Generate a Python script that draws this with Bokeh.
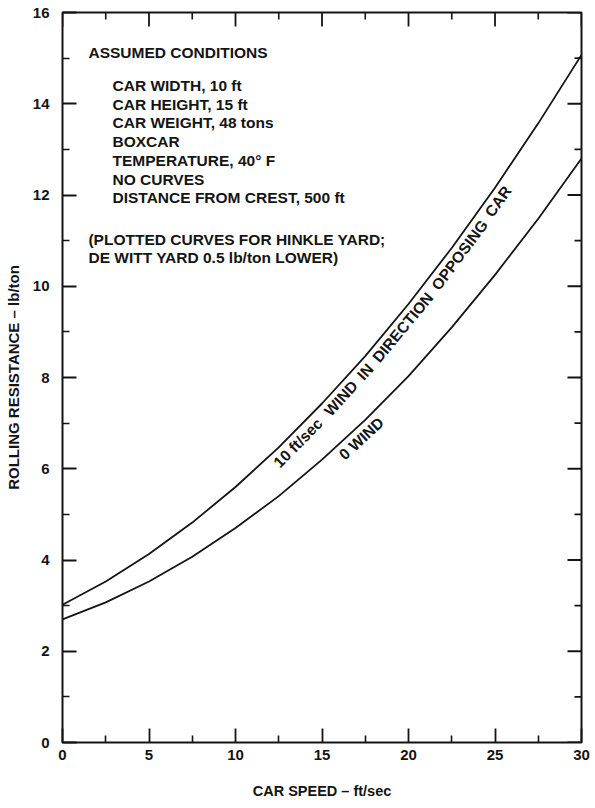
import numpy as np
from bokeh.plotting import figure
from bokeh.models import Range1d, LinearAxis, FixedTicker, Label, ColumnDataSource
from bokeh.core.properties import value
from bokeh.embed import file_html
from bokeh.resources import INLINE

# Rolling resistance vs car speed, boxcar, Hinkle yard
speed = [0, 2.5, 5, 7.5, 10, 12.5, 15, 17.5, 20, 22.5, 25, 27.5, 30]
wind_10 = [3.02, 3.53, 4.13, 4.82, 5.60, 6.47, 7.43, 8.47, 9.61, 10.84, 12.16, 13.57, 15.07]
wind_0 = [2.70, 3.07, 3.53, 4.07, 4.70, 5.40, 6.20, 7.07, 8.03, 9.10, 10.25, 11.48, 12.80]

x_major = [0, 5, 10, 15, 20, 25, 30]
x_minor = [2.5, 7.5, 12.5, 17.5, 22.5, 27.5]
y_major = [0, 2, 4, 6, 8, 10, 12, 14, 16]
y_minor = [1, 3, 5, 7, 9, 11, 13, 15]

conditions_title = "ASSUMED CONDITIONS"
conditions = [
    "CAR WIDTH, 10 ft",
    "CAR HEIGHT, 15 ft",
    "CAR WEIGHT, 48 tons",
    "BOXCAR",
    "TEMPERATURE, 40° F",
    "NO CURVES",
    "DISTANCE FROM CREST, 500 ft",
]
note = ["(PLOTTED CURVES FOR HINKLE YARD;", "DE WITT YARD 0.5 lb/ton LOWER)"]

upper_label = "10 ft/sec WIND IN DIRECTION OPPOSING CAR"
lower_label = "0 WIND"

W, H = 595, 808
BL, BR, BT, BB = 62, 14, 12, 66
FW, FH = W - BL - BR, H - BT - BB
SX, SY = FW / 30.0, FH / 16.0

INK = "#141414"
FONT = "Liberation Sans"

p = figure(width=W, height=H, output_backend="svg", toolbar_location=None,
           x_range=Range1d(0, 30), y_range=Range1d(0, 16),
           x_axis_location=None, y_axis_location=None,
           min_border_left=BL, min_border_right=BR,
           min_border_top=BT, min_border_bottom=BB)
p.xgrid.visible = False
p.ygrid.visible = False
p.background_fill_color = "white"
p.border_fill_color = "white"
p.outline_line_color = INK
p.outline_line_width = 2

MAJOR_IN, MINOR_IN = 14, 7


def style_axis(ax):
    ax.axis_line_color = None
    ax.major_tick_line_color = INK
    ax.minor_tick_line_color = INK
    ax.major_tick_line_width = 1.8
    ax.minor_tick_line_width = 1.6
    ax.major_tick_in = MAJOR_IN
    ax.major_tick_out = 0
    ax.minor_tick_in = MINOR_IN
    ax.minor_tick_out = 0
    ax.major_label_text_font = FONT
    ax.major_label_text_font_style = "bold"
    ax.major_label_text_font_size = "15px"
    ax.major_label_text_color = INK
    ax.axis_label_text_font = FONT
    ax.axis_label_text_font_style = "bold"
    ax.axis_label_text_font_size = "14.5px"
    ax.axis_label_text_color = INK


bottom = LinearAxis(ticker=FixedTicker(ticks=x_major, minor_ticks=x_minor),
                    axis_label="CAR SPEED – ft/sec")
style_axis(bottom)
bottom.major_label_standoff = 7
bottom.axis_label_standoff = 20
p.add_layout(bottom, "below")

left = LinearAxis(ticker=FixedTicker(ticks=y_major, minor_ticks=y_minor),
                  axis_label="ROLLING RESISTANCE – lb/ton")
style_axis(left)
left.axis_label_text_font_size = "15px"
left.major_label_standoff = 13
left.axis_label_standoff = 8
p.add_layout(left, "left")

# tick marks on the top and right edges of the frame
tick_style = dict(line_color=INK, length_units="screen")
p.ray(x=x_major, y=[16] * len(x_major), length=MAJOR_IN, angle=-np.pi / 2,
      line_width=1.8, **tick_style)
p.ray(x=x_minor, y=[16] * len(x_minor), length=MINOR_IN, angle=-np.pi / 2,
      line_width=1.6, **tick_style)
p.ray(x=[30] * len(y_major), y=y_major, length=MAJOR_IN, angle=np.pi,
      line_width=1.8, **tick_style)
p.ray(x=[30] * len(y_minor), y=y_minor, length=MINOR_IN, angle=np.pi,
      line_width=1.6, **tick_style)

# the two resistance curves
p.line(speed, wind_10, line_color=INK, line_width=1.8)
p.line(speed, wind_0, line_color=INK, line_width=1.8)

# approximate advance widths (1/1000 em) of the bold sans used for the curve labels
ADV = {" ": 278, "/": 278, "f": 333, "t": 333, "s": 556, "e": 556, "c": 556,
       "W": 944, "I": 278, "N": 722, "D": 722, "R": 722, "E": 667, "C": 722,
       "T": 611, "O": 778, "P": 667, "S": 667, "G": 778, "A": 722}


def text_width(s, size):
    return sum(ADV.get(ch, 556) for ch in s) * size / 1000.0


def curve_label(text, xs, ys, v_start, d, size, gap):
    """Lay the words of a label along a curve, d px to its lower right."""
    vs = np.linspace(0, 30, 1201)
    cy = np.interp(vs, xs, ys)
    seg = np.hypot(np.diff(vs) * SX, np.diff(cy) * SY)
    arc = np.concatenate([[0.0], np.cumsum(seg)])
    s = float(np.interp(v_start, vs, arc))
    px, py, ang, words = [], [], [], []
    for w in text.split(" "):
        wd = text_width(w, size)
        v = float(np.interp(s + wd / 2, arc, vs))
        y0 = np.interp(v, xs, ys)
        dy = np.interp(v + 0.6, xs, ys) - np.interp(v - 0.6, xs, ys)
        a = float(np.arctan2(dy * SY, 1.2 * SX))
        px.append(v + d * np.sin(a) / SX)
        py.append(y0 - d * np.cos(a) / SY)
        ang.append(a)
        words.append(w)
        s += wd + gap
    src = ColumnDataSource(dict(x=px, y=py, text=words, angle=ang))
    p.text(x="x", y="y", text="text", angle="angle", source=src,
           text_font=value(FONT), text_font_style="bold", text_font_size=f"{size}px",
           text_color=INK, text_align="center", text_baseline="middle")


# "10 ft/sec" is kept as one unit by joining with a no-break space
curve_label(upper_label.replace("10 ft", "10\u00a0ft"), speed, wind_10, 11.8, 10.5, 15.5, 7.5)
curve_label(lower_label.replace(" ", "\u00a0"), speed, wind_0, 15.6, 11, 15.5, 6)


def block_label(text, x, y):
    p.add_layout(Label(x=x, y=y, text=text, text_font=FONT, text_font_style="bold",
                       text_font_size="15.5px", text_color=INK, text_baseline="middle"))


block_label(conditions_title, 1.50, 15.12)
for i, line in enumerate(conditions):
    block_label(line, 2.89, 14.40 - 0.41 * i)
block_label(note[0], 1.50, 11.02)
block_label(note[1], 1.50, 10.63)

open("out.html", "w").write(file_html(p, INLINE))
